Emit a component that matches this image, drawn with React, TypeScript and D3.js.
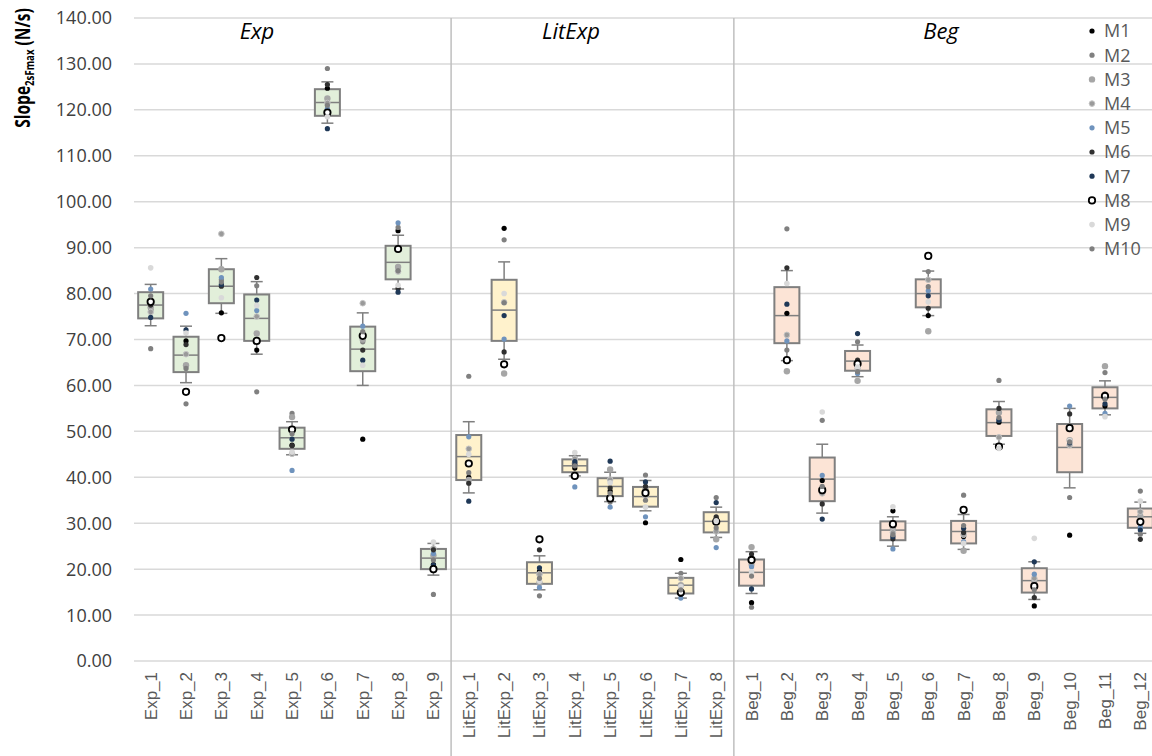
import React from "react";
import * as d3 from "d3";

// ---------- data ----------
const categories = [
  "Exp_1","Exp_2","Exp_3","Exp_4","Exp_5","Exp_6","Exp_7","Exp_8","Exp_9",
  "LitExp_1","LitExp_2","LitExp_3","LitExp_4","LitExp_5","LitExp_6","LitExp_7","LitExp_8",
  "Beg_1","Beg_2","Beg_3","Beg_4","Beg_5","Beg_6","Beg_7","Beg_8","Beg_9","Beg_10","Beg_11","Beg_12",
];
const groupOf = [
  "Exp","Exp","Exp","Exp","Exp","Exp","Exp","Exp","Exp",
  "LitExp","LitExp","LitExp","LitExp","LitExp","LitExp","LitExp","LitExp",
  "Beg","Beg","Beg","Beg","Beg","Beg","Beg","Beg","Beg","Beg","Beg","Beg",
];
const groups = ["Exp", "LitExp", "Beg"];

// box statistics
const whiskerLow = [73.0,60.6,75.7,66.8,44.9,117.1,60.0,81.0,18.7, 36.6,65.7,15.5,40.3,34.7,32.7,13.7,26.9, 14.7,65.4,32.2,61.9,25.0,75.2,24.3,47.2,13.4,37.7,53.6,27.8];
const q1 =         [74.6,62.9,77.9,69.7,46.2,118.7,63.1,83.1,20.0, 39.4,69.7,16.8,41.1,35.9,33.6,14.7,28.0, 16.4,69.2,34.8,63.2,26.3,77.0,25.6,49.0,14.9,41.1,55.0,29.0];
const median =     [77.5,66.6,81.6,74.6,48.6,121.6,67.9,86.8,22.4, 44.5,76.4,19.2,42.5,38.0,35.8,16.5,30.4, 19.3,75.2,39.6,65.3,28.5,80.0,28.2,51.9,17.5,46.5,57.4,31.4];
const q3 =         [80.3,70.6,85.3,79.8,50.8,124.5,72.8,90.4,24.4, 49.2,83.0,21.5,43.9,39.8,37.9,18.1,32.4, 22.1,81.4,44.3,67.5,30.4,83.1,30.5,54.8,20.2,51.6,59.6,33.2];
const whiskerHigh =[82.0,72.9,87.6,82.6,52.1,126.1,75.8,92.7,25.6, 52.1,86.9,22.9,44.7,41.1,39.3,19.1,33.5, 23.8,85.0,47.2,68.8,31.4,84.9,31.9,56.5,21.6,55.0,61.0,34.6];

// individual measurements M1..M10 per category
const M1 =  [76.5,69.7,75.8,67.7,47.0,124.7,48.3,93.7,21.0, 40.0,94.2,19.5,42.0,37.0,30.1,22.1,31.0, 12.7,75.7,39.3,64.5,32.7,75.2,27.1,52.0,12.0,27.4,55.5,30.0];
const M2 =  [68.0,56.0,83.0,58.6,53.9,129.0,69.5,94.4,14.5, 62.0,91.7,14.2,44.5,34.6,40.5,19.1,35.6, 11.7,94.1,52.4,69.5,30.1,84.8,36.1,61.1,17.0,35.6,62.8,37.0];
const M3 =  [77.0,64.4,85.3,71.3,53.1,122.5,70.0,85.8,23.0, 39.4,62.6,17.0,43.0,41.7,37.4,16.5,26.5, 24.8,63.1,37.0,61.0,29.0,71.8,24.0,54.1,17.5,48.1,64.2,31.5];
const M4 =  [76.0,66.8,93.0,75.0,45.1,121.5,77.9,84.8,24.5, 46.2,78.1,18.9,44.0,39.5,36.0,18.0,28.2, 21.0,71.0,36.5,63.7,28.0,83.0,27.5,48.7,18.0,47.0,58.0,32.5];
const M5 =  [81.0,75.7,83.5,76.3,41.5,120.3,72.9,95.4,23.4, 48.8,70.1,16.0,37.9,33.5,31.4,13.7,24.7, 20.5,69.7,40.4,62.6,24.4,80.6,26.0,52.5,18.9,55.5,53.9,29.2];
const M6 =  [77.5,68.9,81.6,83.5,46.9,125.5,67.7,81.1,24.2, 38.7,67.3,24.2,42.7,37.7,38.0,15.3,31.4, 23.3,85.6,34.2,65.5,26.6,76.8,28.0,55.0,13.8,53.8,58.1,26.5];
const M7 =  [74.8,72.1,82.0,78.6,48.3,115.9,65.5,80.3,20.9, 34.8,75.2,20.3,43.4,43.5,39.0,14.5,34.5, 15.7,77.7,30.9,71.3,27.1,79.5,28.9,52.5,21.6,47.5,56.0,28.5];
const M8 =  [78.2,58.6,70.3,69.7,50.4,119.4,70.8,89.7,20.0, 43.0,64.6,26.5,40.3,35.4,36.6,14.9,30.3, 22.0,65.5,37.2,64.7,29.8,88.2,32.9,46.7,16.3,50.7,57.7,30.3];
const M9 =  [85.6,71.4,79.1,77.4,45.5,118.5,64.4,81.8,25.9, 45.0,80.0,17.4,45.4,38.8,33.5,16.2,30.5, 19.4,82.2,54.2,64.0,33.6,78.2,25.6,46.3,26.7,48.0,53.2,34.8];
const M10 = [79.5,63.7,82.5,81.7,49.5,121.0,71.7,85.0,22.0, 41.0,78.0,18.0,42.5,36.5,35.0,15.5,29.0, 18.5,67.7,38.0,63.0,27.5,81.5,29.5,53.0,15.5,47.7,57.0,27.6];

const seriesNames = ["M1","M2","M3","M4","M5","M6","M7","M8","M9","M10"];
const seriesValues = [M1, M2, M3, M4, M5, M6, M7, M8, M9, M10];

const yTicks = [0,10,20,30,40,50,60,70,80,90,100,110,120,130,140];

// ---------- styling ----------
const W = 1152, H = 756;
const groupFill: Record<string, string> = { Exp: "#e2efda", LitExp: "#fff2cc", Beg: "#fce4d6" };
const seriesStyle = [
  { fill: "#000000", stroke: "none", r: 2.6 },
  { fill: "#808080", stroke: "none", r: 2.6 },
  { fill: "#a6a6a6", stroke: "none", r: 3.2 },
  { fill: "#9a9a9a", stroke: "#c4c4c4", r: 2.8 },
  { fill: "#6f93bd", stroke: "none", r: 2.6 },
  { fill: "#303030", stroke: "none", r: 2.6 },
  { fill: "#1f3857", stroke: "none", r: 2.6 },
  { fill: "#ffffff", stroke: "#000000", r: 3.2 },
  { fill: "#d9d9d9", stroke: "none", r: 2.8 },
  { fill: "#7f7f7f", stroke: "none", r: 2.6 },
];
const titlePos: Record<string, number> = { Exp: 257, LitExp: 571, Beg: 941 };

export default function App() {
  const x = d3.scaleBand<string>().domain(categories).range([133, 1158]).padding(0);
  const y = d3.scaleLinear().domain([0, 140]).range([661, 18]);
  const bw = x.bandwidth();
  const boxW = 25;
  const capW = 12;
  const cx = (c: string) => (x(c) as number) + bw / 2;

  // group separators
  const separators: number[] = [];
  for (let i = 1; i < categories.length; i++) {
    if (groupOf[i] !== groupOf[i - 1]) separators.push(x(categories[i]) as number);
  }

  const sans = "'Open Sans', 'Liberation Sans', sans-serif";

  return (
    <svg width={W} height={H} style={{ position: "absolute", left: 0, top: 0, background: "#fff" }}
      fontFamily={sans}>
      {/* gridlines */}
      {yTicks.map((t) => (
        <line key={"g" + t} x1={134} x2={W} y1={y(t)} y2={y(t)} stroke="#d9d9d9" strokeWidth={1.5} />
      ))}
      {separators.map((s, i) => (
        <line key={"s" + i} x1={s} x2={s} y1={y(140)} y2={H} stroke="#bfbfbf" strokeWidth={1.5} />
      ))}
      {/* y tick labels */}
      {yTicks.map((t) => (
        <text key={"t" + t} x={112} y={y(t)} dy="0.36em" textAnchor="end" fontSize={18} fill="#404040">
          {t.toFixed(2)}
        </text>
      ))}
      {/* y axis title */}
      <text transform="translate(30,68) rotate(-90) scale(0.74,1)" textAnchor="middle" fontSize={21} fontWeight="bold" fill="#000">
        <tspan>Slope</tspan>
        <tspan fontSize={13} dy={4}>2sFmax</tspan>
        <tspan dy={-4}> (N/s)</tspan>
      </text>
      {/* group titles */}
      {groups.map((g) => (
        <text key={"gt" + g} x={titlePos[g]} y={39} textAnchor="middle" fontSize={22} fontStyle="italic" fill="#000">
          {g}
        </text>
      ))}
      {/* boxes */}
      {categories.map((c, i) => {
        const xc = cx(c);
        return (
          <g key={"b" + c}>
            <line x1={xc} x2={xc} y1={y(whiskerHigh[i])} y2={y(q3[i])} stroke="#7f7f7f" strokeWidth={1.5} />
            <line x1={xc} x2={xc} y1={y(q1[i])} y2={y(whiskerLow[i])} stroke="#7f7f7f" strokeWidth={1.5} />
            <line x1={xc - capW / 2} x2={xc + capW / 2} y1={y(whiskerHigh[i])} y2={y(whiskerHigh[i])} stroke="#7f7f7f" strokeWidth={1.5} />
            <line x1={xc - capW / 2} x2={xc + capW / 2} y1={y(whiskerLow[i])} y2={y(whiskerLow[i])} stroke="#7f7f7f" strokeWidth={1.5} />
            <rect x={xc - boxW / 2} y={y(q3[i])} width={boxW} height={y(q1[i]) - y(q3[i])}
              fill={groupFill[groupOf[i]]} stroke="#7f7f7f" strokeWidth={2} />
            <line x1={xc - boxW / 2} x2={xc + boxW / 2} y1={y(median[i])} y2={y(median[i])} stroke="#7f7f7f" strokeWidth={1.5} />
          </g>
        );
      })}
      {/* points */}
      {seriesValues.map((vals, si) => (
        <g key={"p" + si}>
          {vals.map((v, i) => (
            <circle key={i} cx={cx(categories[i])} cy={y(v)} r={seriesStyle[si].r}
              fill={seriesStyle[si].fill}
              stroke={seriesStyle[si].stroke}
              strokeWidth={si === 7 ? 1.8 : 1} />
          ))}
        </g>
      ))}
      {/* x labels */}
      {categories.map((c) => (
        <text key={"x" + c} transform={`translate(${cx(c) + 6},672) rotate(-90)`} textAnchor="end"
          fontSize={17} fill="#595959" fontFamily="'Liberation Sans', Arial, sans-serif">
          {c}
        </text>
      ))}
      {/* legend */}
      {seriesNames.map((n, si) => {
        const ly = 31 + si * 24.2;
        return (
          <g key={"l" + n}>
            <circle cx={1092} cy={ly} r={seriesStyle[si].r} fill={seriesStyle[si].fill}
              stroke={seriesStyle[si].stroke} strokeWidth={si === 7 ? 1.8 : 1} />
            <text x={1104} y={ly} dy="0.36em" fontSize={18} fill="#595959">{n}</text>
          </g>
        );
      })}
    </svg>
  );
}
